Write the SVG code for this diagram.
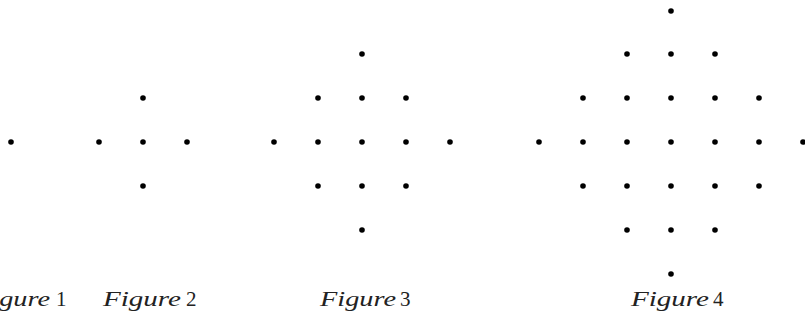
<svg xmlns="http://www.w3.org/2000/svg" width="805" height="322" viewBox="0 0 805 322">
<defs>
<style>
.d{fill:#000}
.lab{font-family:"Liberation Serif","DejaVu Serif",serif;font-size:20px;fill:#222}
.it{font-style:italic}
.num{font-size:21px}
</style>
<circle id="dot" class="d" r="2.8" cx="0" cy="0"/>
</defs>
<rect width="805" height="322" fill="#fff"/>
<g id="figure1">
<use href="#dot" x="11" y="142"/>
<text class="lab"><tspan class="it" x="-26" y="306" textLength="76" lengthAdjust="spacingAndGlyphs">Figure</tspan><tspan class="num" x="56" y="306">1</tspan></text>
</g>
<g id="figure2">
<use href="#dot" x="143" y="98"/>
<use href="#dot" x="99" y="142"/>
<use href="#dot" x="143" y="142"/>
<use href="#dot" x="187" y="142"/>
<use href="#dot" x="143" y="186"/>
<text class="lab"><tspan class="it" x="103" y="306" textLength="78" lengthAdjust="spacingAndGlyphs">Figure</tspan><tspan class="num" x="186" y="306">2</tspan></text>
</g>
<g id="figure3">
<use href="#dot" x="362" y="54"/>
<use href="#dot" x="318" y="98"/><use href="#dot" x="362" y="98"/><use href="#dot" x="406" y="98"/>
<use href="#dot" x="274" y="142"/><use href="#dot" x="318" y="142"/><use href="#dot" x="362" y="142"/><use href="#dot" x="406" y="142"/><use href="#dot" x="450" y="142"/>
<use href="#dot" x="318" y="186"/><use href="#dot" x="362" y="186"/><use href="#dot" x="406" y="186"/>
<use href="#dot" x="362" y="230"/>
<text class="lab"><tspan class="it" x="320" y="306" textLength="76" lengthAdjust="spacingAndGlyphs">Figure</tspan><tspan class="num" x="400" y="306">3</tspan></text>
</g>
<g id="figure4">
<use href="#dot" x="671" y="11"/>
<use href="#dot" x="627" y="54"/><use href="#dot" x="671" y="54"/><use href="#dot" x="715" y="54"/>
<use href="#dot" x="583" y="98"/><use href="#dot" x="627" y="98"/><use href="#dot" x="671" y="98"/><use href="#dot" x="715" y="98"/><use href="#dot" x="759" y="98"/>
<use href="#dot" x="539" y="142"/><use href="#dot" x="583" y="142"/><use href="#dot" x="627" y="142"/><use href="#dot" x="671" y="142"/><use href="#dot" x="715" y="142"/><use href="#dot" x="759" y="142"/><use href="#dot" x="803" y="142"/>
<use href="#dot" x="583" y="186"/><use href="#dot" x="627" y="186"/><use href="#dot" x="671" y="186"/><use href="#dot" x="715" y="186"/><use href="#dot" x="759" y="186"/>
<use href="#dot" x="627" y="230"/><use href="#dot" x="671" y="230"/><use href="#dot" x="715" y="230"/>
<use href="#dot" x="671" y="274"/>
<text class="lab"><tspan class="it" x="631" y="306" textLength="78" lengthAdjust="spacingAndGlyphs">Figure</tspan><tspan class="num" x="713" y="306">4</tspan></text>
</g>
</svg>
